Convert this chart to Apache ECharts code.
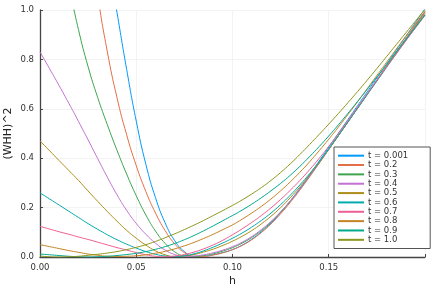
<!DOCTYPE html>
<html><head><meta charset="utf-8">
<script src="https://cdn.jsdelivr.net/npm/echarts@6/dist/echarts.min.js"></script>
<style>html,body{margin:0;padding:0;background:#fff}#c{width:436px;height:289px}</style>
</head><body><div id="c"></div>
<script>
// h grid (step 0.005)
var hValues = [];
for (var i = 0; i <= 40; i++) hValues.push(+(i * 0.005).toFixed(3));

var tLabels = ['t = 0.001','t = 0.2','t = 0.3','t = 0.4','t = 0.5','t = 0.6','t = 0.7','t = 0.8','t = 0.9','t = 1.0'];
var colors = ['#009AFA','#E36F47','#3EA44E','#C371D2','#AC8E18','#00AAAE','#ED5E93','#C68225','#00A98D','#8E971D'];

var whhT0001 = [null,null,null,null,null,null,null,1.22,0.99,0.76,0.55,0.375,0.24,0.138,0.066,0.022,0.002,0.003,0.009,0.018,0.03,0.048,0.072,0.102,0.138,0.18,0.227,0.278,0.332,0.388,0.445,0.501,0.557,0.613,0.669,0.725,0.781,0.837,0.893,0.949,1.005];
var whhT02 = [null,null,null,null,null,1.35,1.06,0.83,0.645,0.495,0.37,0.265,0.178,0.107,0.053,0.018,0.002,0.002,0.008,0.017,0.03,0.047,0.07,0.099,0.134,0.175,0.221,0.271,0.324,0.379,0.435,0.491,0.547,0.603,0.659,0.715,0.771,0.827,0.883,0.939,0.995];
var whhT03 = [null,null,null,1.1,0.92,0.77,0.645,0.535,0.432,0.336,0.248,0.17,0.105,0.055,0.021,0.004,0.002,0.006,0.013,0.024,0.038,0.056,0.079,0.107,0.141,0.181,0.226,0.275,0.327,0.381,0.436,0.492,0.548,0.604,0.66,0.716,0.772,0.828,0.883,0.938,0.993];
var whhT04 = [0.83,0.762,0.693,0.622,0.549,0.474,0.398,0.323,0.252,0.189,0.136,0.092,0.056,0.028,0.01,0.002,0.004,0.009,0.017,0.028,0.042,0.06,0.083,0.111,0.144,0.183,0.227,0.275,0.327,0.381,0.436,0.492,0.548,0.604,0.66,0.716,0.772,0.828,0.883,0.937,0.99];
var whhT05 = [0.47,0.43,0.39,0.35,0.31,0.267,0.225,0.184,0.145,0.108,0.076,0.048,0.025,0.009,0.002,0.004,0.01,0.02,0.032,0.047,0.064,0.084,0.107,0.134,0.165,0.2,0.24,0.284,0.332,0.383,0.436,0.491,0.547,0.603,0.659,0.715,0.771,0.826,0.88,0.933,0.985];
var whhT06 = [0.26,0.235,0.21,0.185,0.16,0.135,0.112,0.09,0.07,0.052,0.036,0.022,0.011,0.004,0.002,0.005,0.013,0.025,0.04,0.057,0.076,0.097,0.121,0.148,0.178,0.212,0.25,0.292,0.337,0.386,0.438,0.492,0.547,0.602,0.657,0.712,0.767,0.822,0.876,0.929,0.98];
var whhT07 = [0.124,0.113,0.102,0.092,0.081,0.071,0.06,0.049,0.038,0.028,0.018,0.009,0.003,0.001,0.004,0.01,0.02,0.033,0.049,0.068,0.09,0.114,0.14,0.168,0.199,0.233,0.27,0.31,0.353,0.399,0.448,0.5,0.553,0.607,0.661,0.715,0.769,0.822,0.875,0.927,0.978];
var whhT08 = [0.05,0.042,0.034,0.026,0.019,0.012,0.007,0.003,0.002,0.003,0.005,0.009,0.015,0.023,0.033,0.045,0.059,0.075,0.092,0.111,0.13,0.153,0.178,0.205,0.235,0.268,0.304,0.343,0.385,0.43,0.477,0.526,0.577,0.629,0.682,0.735,0.788,0.841,0.893,0.944,0.994];
var whhT09 = [0.012,0.009,0.006,0.003,0.001,0.0,0.001,0.003,0.006,0.01,0.015,0.022,0.031,0.042,0.055,0.07,0.087,0.106,0.126,0.147,0.168,0.19,0.214,0.24,0.268,0.298,0.331,0.367,0.406,0.447,0.49,0.535,0.582,0.63,0.679,0.729,0.779,0.83,0.88,0.93,0.98];
var whhT10 = [0.004,0.001,0.0,0.001,0.003,0.007,0.011,0.016,0.022,0.03,0.039,0.05,0.063,0.078,0.094,0.111,0.129,0.148,0.168,0.188,0.209,0.231,0.255,0.281,0.31,0.342,0.377,0.415,0.455,0.496,0.538,0.581,0.625,0.67,0.716,0.763,0.811,0.859,0.907,0.955,1.002];

var allSeries = [whhT0001, whhT02, whhT03, whhT04, whhT05, whhT06, whhT07, whhT08, whhT09, whhT10];

var xTicks = [0, 0.05, 0.1, 0.15];
var yTicks = [0, 0.2, 0.4, 0.6, 0.8, 1.0];

var font = 'DejaVu Sans';
var chart = echarts.init(document.getElementById('c'), null, {renderer: 'canvas'});
var series = allSeries.map(function (vals, k) {
  return {
    name: tLabels[k],
    type: 'line',
    data: vals.map(function (v, i) { return [hValues[i], v]; }),
    showSymbol: false,
    smooth: 0.5,
    clip: true,
    connectNulls: false,
    lineStyle: {width: 1, color: colors[k]},
    itemStyle: {color: colors[k]},
    emphasis: {disabled: true},
    animation: false
  };
});

chart.setOption({
  animation: false,
  color: colors,
  grid: {left: 40, right: 11, top: 10, bottom: 32, containLabel: false, outerBoundsMode: 'none'},
  xAxis: {
    type: 'value', min: 0, max: 0.2, interval: 0.05,
    name: 'h', nameLocation: 'middle', nameGap: 19, nameMoveOverlap: false,
    nameTextStyle: {fontFamily: font, fontSize: 11, color: '#222'},
    axisLine: {show: true, onZero: false, lineStyle: {color: '#444', width: 1.3}},
    axisTick: {show: true, inside: true, length: 3, lineStyle: {color: '#444'}},
    axisLabel: {fontFamily: font, fontSize: 8.5, color: '#333', margin: 6,
      formatter: function (v) { return xTicks.indexOf(+v.toFixed(2)) >= 0 ? v.toFixed(2) : ''; }},
    splitLine: {show: true, lineStyle: {color: '#f0f0f0', width: 0.8}}
  },
  yAxis: {
    type: 'value', min: 0, max: 1, interval: 0.2,
    name: '(WHH)^2', nameLocation: 'middle', nameGap: 26, nameRotate: 90, nameMoveOverlap: false,
    nameTextStyle: {fontFamily: font, fontSize: 11, color: '#222'},
    axisLine: {show: true, onZero: false, lineStyle: {color: '#444', width: 1.3}},
    axisTick: {show: true, inside: true, length: 3, lineStyle: {color: '#444'}},
    axisLabel: {fontFamily: font, fontSize: 8.5, color: '#333', margin: 6,
      formatter: function (v) { return yTicks.indexOf(+v.toFixed(1)) >= 0 ? v.toFixed(1) : ''; }},
    splitLine: {show: true, lineStyle: {color: '#f0f0f0', width: 0.8}}
  },
  legend: {
    show: true, orient: 'vertical', left: 334, top: 147,
    data: tLabels,
    icon: 'rect', itemWidth: 26, itemHeight: 2, itemGap: 0,
    padding: [4, 22, 4, 4],
    backgroundColor: '#fff', borderColor: '#555', borderWidth: 1, borderRadius: 0,
    textStyle: {fontFamily: font, fontSize: 8.5, color: '#333', lineHeight: 9.35, padding: [0, 0, 0, -1]},
    selectedMode: false
  },
  series: series
});
</script></body></html>
